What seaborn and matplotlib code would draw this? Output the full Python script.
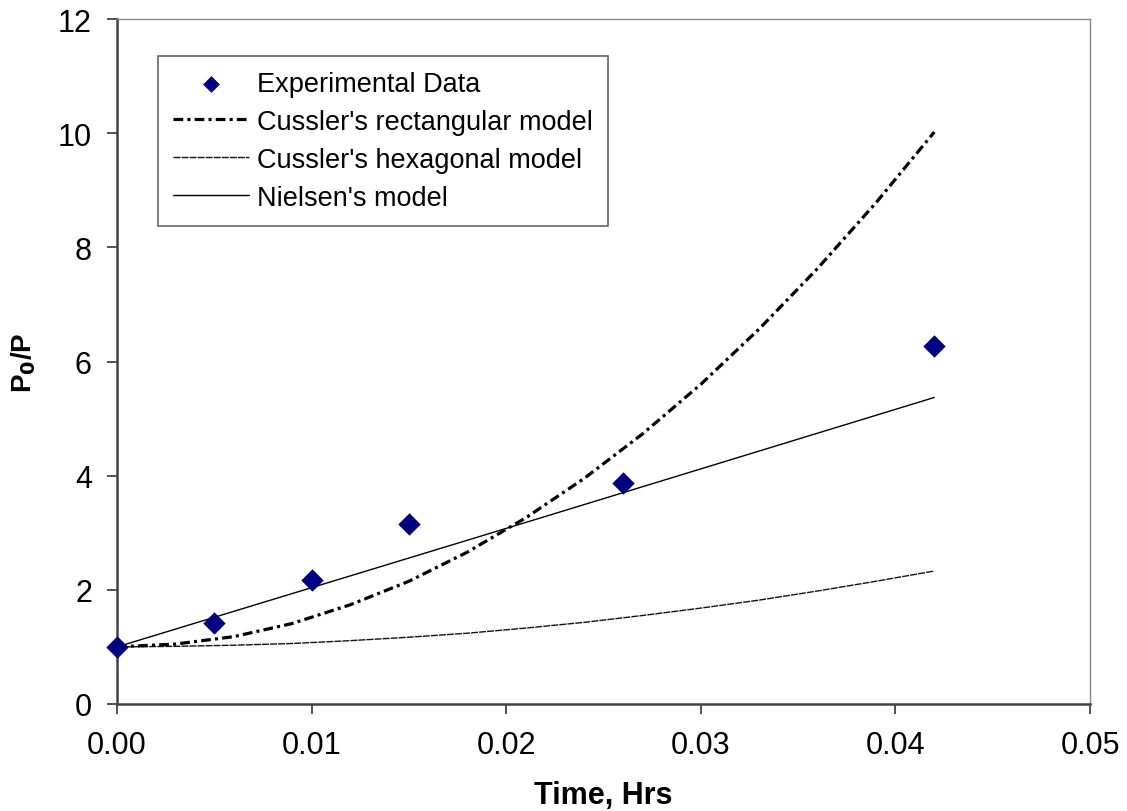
import matplotlib
matplotlib.use("Agg")
import matplotlib.pyplot as plt
import seaborn as sns
import pandas as pd

# ---- data ----
exp_time = [0.000, 0.005, 0.010, 0.015, 0.026, 0.042]
exp_ratio = [1.00, 1.42, 2.18, 3.15, 3.87, 6.27]

model_time = [0.000, 0.003, 0.006, 0.009, 0.012, 0.015, 0.018, 0.021,
              0.024, 0.027, 0.030, 0.033, 0.036, 0.039, 0.042]
rect_ratio = [1.00, 1.05, 1.18, 1.41, 1.74, 2.15, 2.66, 3.26,
              3.95, 4.73, 5.60, 6.57, 7.63, 8.78, 10.02]
hex_ratio = [1.00, 1.01, 1.03, 1.06, 1.11, 1.17, 1.24, 1.33,
             1.43, 1.55, 1.68, 1.82, 1.98, 2.15, 2.33]

nielsen_time = [0.000, 0.021, 0.042]
nielsen_ratio = [1.00, 3.18, 5.37]

x_ticks = [0.00, 0.01, 0.02, 0.03, 0.04, 0.05]
x_tick_labels = ["0.00", "0.01", "0.02", "0.03", "0.04", "0.05"]
y_ticks = [0, 2, 4, 6, 8, 10, 12]

sns.set_style("white")
plt.rcParams['font.family'] = ['Liberation Sans', 'DejaVu Sans']
plt.rcParams['lines.scale_dashes'] = False
plt.rcParams['text.color'] = 'black'
plt.rcParams['axes.labelcolor'] = 'black'
plt.rcParams['xtick.labelcolor'] = 'black'
plt.rcParams['ytick.labelcolor'] = 'black'

fig = plt.figure(figsize=(11.27, 8.12), dpi=100)
ax = fig.add_axes([117/1127, 1 - 705/812, (1090 - 117)/1127, (705 - 20)/812])

df_exp = pd.DataFrame({"t": exp_time, "r": exp_ratio})
df_rect = pd.DataFrame({"t": model_time, "r": rect_ratio})
df_hex = pd.DataFrame({"t": model_time, "r": hex_ratio})
df_niel = pd.DataFrame({"t": nielsen_time, "r": nielsen_ratio})

sns.lineplot(data=df_rect, x="t", y="r", ax=ax, color="black", linewidth=2.3,
             label="Cussler's rectangular model", zorder=3)
ax.lines[-1].set_dashes((7, 3, 2.2, 3))
sns.lineplot(data=df_hex, x="t", y="r", ax=ax, color="#111111", linewidth=1.0,
             label="Cussler's hexagonal model", zorder=2)
ax.lines[-1].set_dashes((5, 0.8))
sns.lineplot(data=df_niel, x="t", y="r", ax=ax, color="black", linewidth=1.0,
             label="Nielsen's model", zorder=2)
sns.scatterplot(data=df_exp, x="t", y="r", ax=ax, marker="D", s=130,
                color="#000080", edgecolor="#000080", linewidth=0,
                label="Experimental Data", zorder=4, clip_on=False)

ax.set_xlim(0, 0.05)
ax.set_ylim(0, 12)
ax.set_xticks(x_ticks)
ax.set_xticklabels(x_tick_labels)
ax.set_yticks(y_ticks)
ax.tick_params(axis="both", direction="out", length=7, width=1.2,
               color="#333333", labelsize=22, pad=11, bottom=True, left=True,
               labelcolor="black")
ax.tick_params(axis="x", pad=12)

for side in ["left", "bottom"]:
    ax.spines[side].set_color("#444444")
    ax.spines[side].set_linewidth(1.8)
for side in ["top", "right"]:
    ax.spines[side].set_color("#888888")
    ax.spines[side].set_linewidth(1.0)

ax.set_xlabel("Time, Hrs", fontsize=22, fontweight="bold", labelpad=14, color="black")
ax.set_ylabel(r"P$_\mathbf{0}$/P", fontsize=20, fontweight="bold", labelpad=14, color="black")

handles, labels = ax.get_legend_handles_labels()
order = [labels.index(l) for l in ["Experimental Data", "Cussler's rectangular model",
                                   "Cussler's hexagonal model", "Nielsen's model"]]
leg = ax.legend([handles[i] for i in order], [labels[i] for i in order],
                loc="upper left", bbox_to_anchor=((158 - 117)/973, 1 - (57 - 20)/685),
                fontsize=19.5, frameon=True, fancybox=False, edgecolor="#666666",
                framealpha=1, borderpad=0.55, labelspacing=0.44, handlelength=2.8,
                handletextpad=0.3, borderaxespad=0, markerscale=0.75,
                labelcolor="black")
leg.get_frame().set_linewidth(1.2)

fig.savefig("out.png", dpi=100)
